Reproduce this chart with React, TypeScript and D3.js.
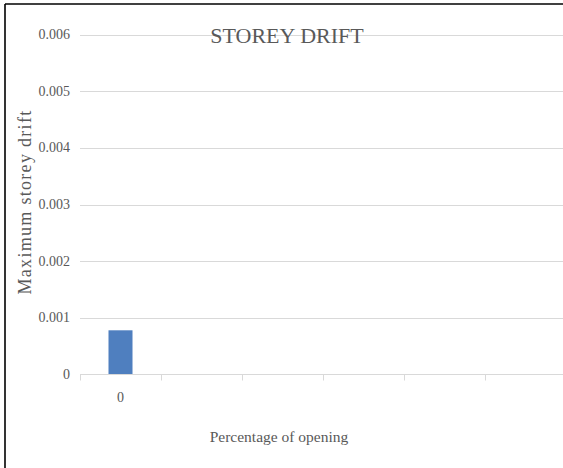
import React from "react";
import * as d3 from "d3";

const categories: string[] = ["0", "", "", "", "", ""];
const drift: (number | null)[] = [0.00078, null, null, null, null, null];
const yTicks: number[] = [0, 0.001, 0.002, 0.003, 0.004, 0.005, 0.006];
const yTickLabels: string[] = ["0", "0.001", "0.002", "0.003", "0.004", "0.005", "0.006"];

const W = 563;
const H = 468;
const FONT = "'Liberation Serif', 'Times New Roman', serif";

export default function App() {
  const x = d3.scaleBand<number>().domain(d3.range(categories.length)).range([80, 566]).paddingInner(0).paddingOuter(0);
  const y = d3.scaleLinear().domain([0, 0.006]).range([374.5, 34.5]);
  const barW = 24;

  return (
    <svg
      width={W}
      height={H}
      style={{ position: "absolute", left: 0, top: 0, background: "#fff" }}
    >
      <rect x={0} y={0} width={W} height={H} fill="#fff" />
      {/* frame */}
      <line x1={5} y1={4} x2={W} y2={4} stroke="#000" strokeWidth={1.6} />
      <line x1={5} y1={4} x2={5} y2={H} stroke="#000" strokeWidth={1.6} />

      {/* gridlines */}
      {yTicks.slice(1).map((t) => (
        <line key={t} x1={80} x2={W} y1={Math.round(y(t)) + 0.5} y2={Math.round(y(t)) + 0.5} stroke="#d9d9d9" strokeWidth={1} />
      ))}

      {/* bars */}
      {drift.map((v, i) =>
        v == null ? null : (
          <rect
            key={i}
            x={(x(i) as number) + x.bandwidth() / 2 - barW / 2}
            y={y(v)}
            width={barW}
            height={y(0) - y(v)}
            fill="#4f7fbf"
          />
        )
      )}

      {/* x axis */}
      <line x1={80} x2={W} y1={y(0)} y2={y(0)} stroke="#d9d9d9" strokeWidth={1} />
      {d3.range(categories.length + 1).map((i) => {
        const xx = 80 + i * x.step();
        return <line key={i} x1={xx + 0.5} x2={xx + 0.5} y1={y(0)} y2={y(0) + 6} stroke="#d9d9d9" strokeWidth={1} />;
      })}
      {categories.map((c, i) => (
        <text
          key={i}
          x={(x(i) as number) + x.bandwidth() / 2}
          y={402}
          textAnchor="middle"
          fontFamily={FONT}
          fontSize={14}
          fill="#595959"
        >
          {c}
        </text>
      ))}

      {/* y tick labels */}
      {yTicks.map((t, i) => (
        <text
          key={t}
          x={70}
          y={y(t) + 4.5}
          textAnchor="end"
          fontFamily={FONT}
          fontSize={14}
          fill="#595959"
        >
          {yTickLabels[i]}
        </text>
      ))}

      {/* title */}
      <text x={287} y={43} textAnchor="middle" fontFamily={FONT} fontSize={22} fill="#595959">
        STOREY DRIFT
      </text>

      {/* axis titles */}
      <text x={279} y={442} textAnchor="middle" fontFamily={FONT} fontSize={15.5} fill="#595959">
        Percentage of opening
      </text>
      <text
        transform={`translate(31, 202) rotate(-90)`}
        textAnchor="middle"
        fontFamily={FONT}
        fontSize={18}
        letterSpacing={1.3}
        fill="#595959"
      >
        Maximum storey drift
      </text>
    </svg>
  );
}
